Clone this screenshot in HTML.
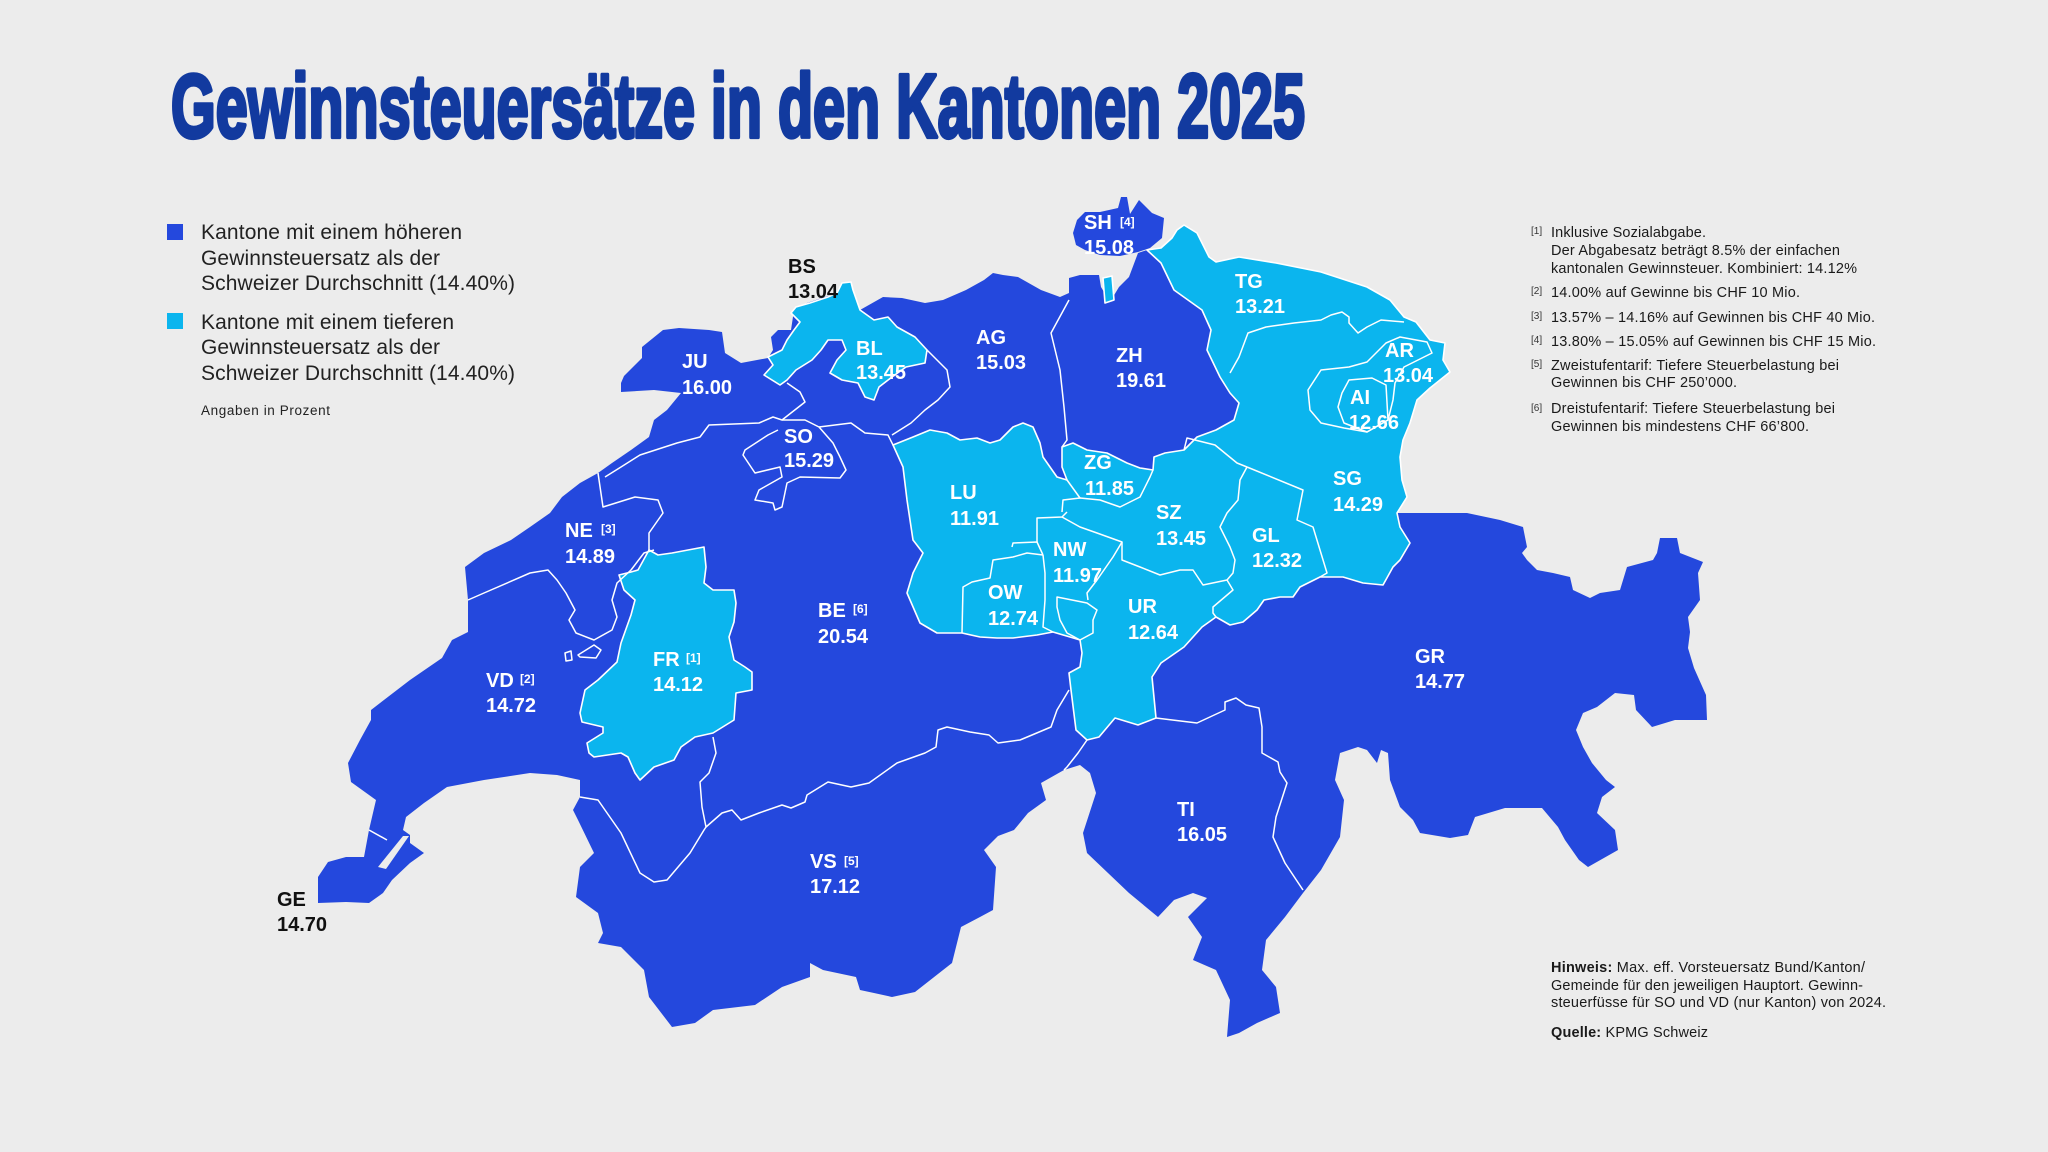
<!DOCTYPE html>
<html>
<head>
<meta charset="utf-8">
<style>
html,body{margin:0;padding:0;background:#ececec;}
svg{display:block;}
</style>
</head>
<body>
<svg xmlns="http://www.w3.org/2000/svg" width="2048" height="1152" viewBox="0 0 2048 1152" font-family="'Liberation Sans', Arial, sans-serif">
<rect x="0" y="0" width="2048" height="1152" fill="#ececec"/>

<!-- Title -->
<text x="171" y="137" font-size="90" font-weight="bold" fill="#123a9f" stroke="#123a9f" stroke-width="4.2" stroke-linejoin="round" textLength="1134" lengthAdjust="spacingAndGlyphs">Gewinnsteuersätze in den Kantonen 2025</text>

<!-- Legend -->
<rect x="167" y="224" width="16" height="16" fill="#2448dd"/>
<rect x="167" y="313" width="16" height="16" fill="#0bb5ee"/>
<g font-size="21" fill="#222">
<text x="201" y="239" textLength="261" lengthAdjust="spacing">Kantone mit einem höheren</text>
<text x="201" y="265" textLength="239" lengthAdjust="spacing">Gewinnsteuersatz als der</text>
<text x="201" y="290" textLength="314" lengthAdjust="spacing">Schweizer Durchschnitt (14.40%)</text>
<text x="201" y="329" textLength="253" lengthAdjust="spacing">Kantone mit einem tieferen</text>
<text x="201" y="354" textLength="239" lengthAdjust="spacing">Gewinnsteuersatz als der</text>
<text x="201" y="380" textLength="314" lengthAdjust="spacing">Schweizer Durchschnitt (14.40%)</text>
</g>
<text x="201" y="415" font-size="13.5" fill="#222" textLength="129" lengthAdjust="spacing">Angaben in Prozent</text>

<!-- Map: Switzerland outline (dark) -->
<path fill="#2448dd" d="M621,383 L624,376 L642,358 L642,347 L663,330 L679,328 L709,330 L722,332 L725,353 L741,363 L768,358 L773,350 L771,337 L778,330 L791,330 L794,310 L807,303 L837,293 L842,283 L851,282 L853,290 L860,310 L883,297 L902,298 L925,303 L943,300 L966,290 L984,280 L993,273 L1003,275 L1018,277 L1041,290 L1060,297 L1069,293 L1069,278 L1080,275 L1099,275 L1101,287 L1110,302 L1119,287 L1129,277 L1138,253 L1147,250 L1161,248 L1172,238 L1177,230 L1184,225 L1197,233 L1209,257 L1216,262 L1239,257 L1276,263 L1321,272 L1367,287 L1390,300 L1404,317 L1416,322 L1430,340 L1445,343 L1443,360 L1450,372 L1430,388 L1417,400 L1410,423 L1403,440 L1400,457 L1402,480 L1407,497 L1397,513 L1433,513 L1467,513 L1500,520 L1523,527 L1527,547 L1522,553 L1527,560 L1537,570 L1553,573 L1570,577 L1573,590 L1590,598 L1600,593 L1620,590 L1627,567 L1653,560 L1657,553 L1660,538 L1677,538 L1680,553 L1703,562 L1698,573 L1700,600 L1688,617 L1690,632 L1688,648 L1694,668 L1706,695 L1707,720 L1675,720 L1652,727 L1636,710 L1634,695 L1615,693 L1597,707 L1583,713 L1576,730 L1583,747 L1592,763 L1606,780 L1615,787 L1602,797 L1597,813 L1615,830 L1618,850 L1588,867 L1579,860 L1565,840 L1558,827 L1542,808 L1505,808 L1475,817 L1468,835 L1450,838 L1420,833 L1413,820 L1400,807 L1390,780 L1388,753 L1381,750 L1377,763 L1367,750 L1358,747 L1340,753 L1335,780 L1344,800 L1340,837 L1321,870 L1303,893 L1285,917 L1266,940 L1262,970 L1276,987 L1280,1013 L1257,1023 L1239,1033 L1227,1037 L1230,1000 L1216,970 L1193,960 L1202,937 L1188,917 L1207,898 L1193,893 L1174,900 L1158,917 L1129,893 L1087,853 L1083,833 L1096,793 L1090,773 L1080,765 L1064,770 L1041,783 L1046,800 L1028,813 L1014,830 L998,836 L984,850 L996,867 L993,910 L980,917 L961,927 L952,963 L915,992 L892,997 L874,993 L860,990 L856,977 L823,970 L810,963 L810,977 L782,987 L755,1005 L713,1010 L695,1023 L672,1027 L649,997 L644,970 L621,947 L598,943 L603,933 L598,913 L576,897 L580,867 L594,853 L578,820 L573,810 L580,797 L580,780 L557,775 L530,773 L484,780 L447,787 L424,803 L406,817 L403,830 L410,835 L410,843 L424,853 L410,863 L392,880 L383,893 L369,903 L346,902 L318,903 L318,877 L328,862 L346,857 L364,857 L369,830 L376,800 L351,782 L348,763 L360,740 L371,720 L371,710 L410,680 L442,658 L452,640 L468,632 L468,600 L465,567 L484,553 L511,540 L530,527 L550,513 L562,497 L580,483 L598,473 L612,463 L631,450 L649,437 L654,420 L667,410 L681,393 L654,390 L621,392 Z"/>
<!-- GE lake wedge -->
<path fill="#ececec" d="M378,867 L403,836 L409,836 L386,869 Z"/>
<!-- SH -->
<path fill="#2448dd" d="M1073,233 L1077,220 L1085,212 L1100,212 L1118,208 L1121,197 L1127,197 L1130,214 L1139,200 L1152,213 L1164,218 L1162,238 L1150,248 L1138,252 L1120,256 L1100,255 L1085,250 L1076,245 Z"/>

<!-- Light cantons -->
<g fill="#0bb5ee" stroke="#ffffff" stroke-width="1.6" stroke-linejoin="round">
<path d="M1147,250 L1161,248 L1172,238 L1177,230 L1184,225 L1197,233 L1209,257 L1216,262 L1239,257 L1276,263 L1321,272 L1367,287 L1390,300 L1404,317 L1416,322 L1430,340 L1445,343 L1443,360 L1450,372 L1430,388 L1417,400 L1410,423 L1403,440 L1400,457 L1402,480 L1407,497 L1397,513 L1400,527 L1410,543 L1400,560 L1393,567 L1383,585 L1363,583 L1343,577 L1320,577 L1300,587 L1293,597 L1280,597 L1264,600 L1257,610 L1243,622 L1230,625 L1216,617 L1202,627 L1184,647 L1161,663 L1152,677 L1156,718 L1138,725 L1115,718 L1099,737 L1087,740 L1076,730 L1071,690 L1069,673 L1080,667 L1082,653 L1080,640 L1070,637 L1053,632 L1037,635 L1013,638 L997,638 L980,637 L962,633 L937,633 L920,623 L907,593 L913,573 L923,553 L913,540 L907,500 L903,467 L893,445 L913,437 L930,430 L947,433 L960,440 L977,438 L990,443 L1000,440 L1007,433 L1013,427 L1023,423 L1033,427 L1040,443 L1043,457 L1057,477 L1067,480 L1062,467 L1062,447 L1073,443 L1087,450 L1107,453 L1127,463 L1140,468 L1153,470 L1154,457 L1165,453 L1184,450 L1197,437 L1216,430 L1234,420 L1239,403 L1230,393 L1220,377 L1207,350 L1211,330 L1202,310 L1174,290 L1161,263 Z"/>
<path d="M837,293 L842,283 L851,282 L853,290 L860,310 L874,320 L888,317 L897,327 L915,337 L927,350 L925,363 L906,367 L892,377 L879,387 L874,400 L865,397 L858,383 L842,380 L830,373 L837,360 L846,350 L842,340 L828,340 L821,350 L812,360 L796,370 L787,380 L780,385 L764,375 L773,365 L768,357 L782,350 L787,340 L794,330 L800,322 L791,313 L796,307 L810,303 L828,297 Z"/>
<path d="M649,550 L658,555 L672,553 L704,547 L706,567 L704,583 L713,590 L734,590 L736,603 L734,622 L729,637 L734,660 L745,667 L752,672 L752,690 L736,693 L734,720 L713,733 L695,737 L681,747 L674,760 L654,767 L640,780 L635,773 L628,757 L621,753 L594,757 L589,753 L587,743 L603,733 L603,727 L582,722 L580,713 L585,690 L598,680 L617,662 L621,643 L631,615 L635,600 L624,590 L619,575 L631,572 L638,570 Z"/>
<path d="M1103,278 L1112,276 L1114,300 L1105,303 Z"/>
</g>

<!-- Internal borders -->
<g fill="none" stroke="#ffffff" stroke-width="1.5" stroke-linejoin="round">
<path d="M605,477 L621,467 L640,455 L677,443 L700,437 L709,425 L759,423 L773,417 L782,420 L805,402 L800,392 L787,383"/>
<path d="M778,430 L768,435 L745,450 L743,455 L755,473 L780,467 L782,477 L759,490 L755,500 L773,503 L775,510 L782,507 L787,483 L800,477 L840,478 L846,470 L840,457 L833,443 L819,427 L805,420 L782,420"/>
<path d="M819,427 L851,423 L865,433 L888,435 L893,445"/>
<path d="M927,350 L947,370 L950,387 L938,400 L925,410 L911,423 L892,435"/>
<path d="M1069,300 L1051,333 L1060,370 L1064,407 L1067,440 L1062,447"/>
<path d="M598,473 L603,507 L635,497 L658,500 L663,513 L656,523 L649,533 L649,550"/>
<path d="M468,600 L484,593 L530,573 L548,570 L557,580 L566,593 L575,610 L569,620 L576,633 L594,640 L612,630 L617,617 L612,600 L617,583 L631,570 L644,553 L654,550"/>
<path d="M580,797 L598,800 L621,833 L640,873 L654,882 L667,880 L690,853 L704,830 L706,827 L702,807 L700,782 L709,773 L716,753 L713,737"/>
<path d="M706,827 L722,813 L732,810 L741,820 L759,813 L782,805 L791,808 L805,802 L807,795 L828,782 L851,787 L869,783 L897,763 L925,753 L936,747 L938,730 L947,727 L970,732 L989,735 L998,743 L1020,740 L1032,735 L1051,727 L1057,710 L1069,690"/>
<path d="M1087,740 L1078,753 L1067,767 L1064,770"/>
<path d="M1156,718 L1197,723 L1225,710 L1225,702 L1236,698 L1246,705 L1259,708 L1262,727 L1262,753 L1278,762 L1280,772 L1287,783 L1276,817 L1273,837 L1285,863 L1303,890"/>
<path d="M369,830 L387,840"/>
<path d="M565,653 L571,651 L572,660 L566,661 Z"/>
<path d="M578,655 L594,645 L601,650 L596,658 L580,657 Z"/>
<!-- central light cantons -->
<path d="M962,633 L963,587 L972,582 L990,578 L993,560 L1013,557 L1027,553 L1043,555"/>
<path d="M1012,547 L1013,543 L1037,542 L1043,555"/>
<path d="M1043,555 L1045,573 L1045,600 L1043,627 L1053,632"/>
<path d="M1037,542 L1037,518 L1062,517 L1067,512"/>
<path d="M1062,512 L1063,500 L1080,498 L1100,500 L1120,507 L1140,497 L1150,477 L1153,470"/>
<path d="M1067,480 L1080,498"/>
<path d="M1062,517 L1080,527 L1097,533 L1122,542 L1113,557 L1097,580 L1087,593 L1088,600"/>
<path d="M1057,597 L1072,600 L1087,603 L1097,610 L1093,620 L1093,633 L1080,640 L1067,633 L1060,620 L1057,607 Z"/>
<path d="M1122,542 L1122,560 L1140,567 L1160,575 L1180,570 L1193,570 L1203,585 L1227,580"/>
<path d="M1247,467 L1240,480 L1238,500 L1227,513 L1220,527 L1230,547 L1235,560 L1233,573 L1227,580 L1233,590 L1213,607 L1213,613 L1216,617"/>
<path d="M1184,450 L1187,438 L1215,445 L1237,463 L1247,467"/>
<path d="M1247,467 L1303,490 L1297,520 L1313,527 L1320,550 L1327,573 L1320,577"/>
<path d="M1230,373 L1239,357 L1248,333 L1266,327 L1294,323 L1321,320 L1331,315 L1342,312 L1349,317 L1349,323 L1358,333 L1367,327 L1381,320 L1404,322"/>
<path d="M1308,390 L1321,370 L1349,367 L1367,362 L1386,343 L1400,337 L1427,342 L1432,353 L1404,367 L1395,383 L1393,400 L1388,420 L1367,432 L1344,428 L1321,423 L1310,410 Z"/>
<path d="M1342,393 L1349,380 L1372,378 L1386,385 L1388,420 L1367,432 L1344,423 L1338,407 Z"/>
</g>

<!-- Canton labels -->
<g font-size="20" font-weight="bold" fill="#ffffff">
<text x="1084" y="229">SH</text><text x="1084" y="254">15.08</text>
<text x="682" y="368">JU</text><text x="682" y="394">16.00</text>
<text x="856" y="355">BL</text><text x="856" y="379">13.45</text>
<text x="976" y="344">AG</text><text x="976" y="369">15.03</text>
<text x="1116" y="362">ZH</text><text x="1116" y="387">19.61</text>
<text x="1235" y="288">TG</text><text x="1235" y="313">13.21</text>
<text x="1385" y="357">AR</text><text x="1383" y="382">13.04</text>
<text x="1350" y="404">AI</text><text x="1349" y="429">12.66</text>
<text x="784" y="443">SO</text><text x="784" y="467">15.29</text>
<text x="1084" y="469">ZG</text><text x="1085" y="495">11.85</text>
<text x="950" y="499">LU</text><text x="950" y="525">11.91</text>
<text x="1156" y="519">SZ</text><text x="1156" y="545">13.45</text>
<text x="1333" y="485">SG</text><text x="1333" y="511">14.29</text>
<text x="565" y="537">NE</text><text x="565" y="563">14.89</text>
<text x="1252" y="542">GL</text><text x="1252" y="567">12.32</text>
<text x="1053" y="556">NW</text><text x="1053" y="582">11.97</text>
<text x="818" y="617">BE</text><text x="818" y="643">20.54</text>
<text x="988" y="599">OW</text><text x="988" y="625">12.74</text>
<text x="1128" y="613">UR</text><text x="1128" y="639">12.64</text>
<text x="653" y="666">FR</text><text x="653" y="691">14.12</text>
<text x="1415" y="663">GR</text><text x="1415" y="688">14.77</text>
<text x="486" y="687">VD</text><text x="486" y="712">14.72</text>
<text x="1177" y="816">TI</text><text x="1177" y="841">16.05</text>
<text x="810" y="868">VS</text><text x="810" y="893">17.12</text>
</g>
<g font-size="12" font-weight="bold" fill="#ffffff">
<text x="1120" y="226">[4]</text>
<text x="601" y="533">[3]</text>
<text x="853" y="613">[6]</text>
<text x="686" y="662">[1]</text>
<text x="520" y="683">[2]</text>
<text x="844" y="865">[5]</text>
</g>
<g font-size="20" font-weight="bold" fill="#111111">
<text x="788" y="273">BS</text><text x="788" y="298">13.04</text>
<text x="277" y="906">GE</text><text x="277" y="931">14.70</text>
</g>

<!-- Footnotes -->
<g font-size="10" fill="#333">
<text x="1531" y="234">[1]</text>
<text x="1531" y="294">[2]</text>
<text x="1531" y="319">[3]</text>
<text x="1531" y="343">[4]</text>
<text x="1531" y="367">[5]</text>
<text x="1531" y="411">[6]</text>
</g>
<g font-size="14.5" fill="#1a1a1a">
<text x="1551" y="237" textLength="155" lengthAdjust="spacing">Inklusive Sozialabgabe.</text>
<text x="1551" y="255" textLength="289" lengthAdjust="spacing">Der Abgabesatz beträgt 8.5% der einfachen</text>
<text x="1551" y="273" textLength="306" lengthAdjust="spacing">kantonalen Gewinnsteuer. Kombiniert: 14.12%</text>
<text x="1551" y="297" textLength="249" lengthAdjust="spacing">14.00% auf Gewinne bis CHF 10 Mio.</text>
<text x="1551" y="322" textLength="324" lengthAdjust="spacing">13.57% – 14.16% auf Gewinnen bis CHF 40 Mio.</text>
<text x="1551" y="346" textLength="325" lengthAdjust="spacing">13.80% – 15.05% auf Gewinnen bis CHF 15 Mio.</text>
<text x="1551" y="370" textLength="288" lengthAdjust="spacing">Zweistufentarif: Tiefere Steuerbelastung bei</text>
<text x="1551" y="387" textLength="186" lengthAdjust="spacing">Gewinnen bis CHF 250’000.</text>
<text x="1551" y="413" textLength="284" lengthAdjust="spacing">Dreistufentarif: Tiefere Steuerbelastung bei</text>
<text x="1551" y="431" textLength="258" lengthAdjust="spacing">Gewinnen bis mindestens CHF 66’800.</text>

<text x="1551" y="972" textLength="314" lengthAdjust="spacing"><tspan font-weight="bold">Hinweis:</tspan> Max. eff. Vorsteuersatz Bund/Kanton/</text>
<text x="1551" y="990" textLength="312" lengthAdjust="spacing">Gemeinde für den jeweiligen Hauptort. Gewinn-</text>
<text x="1551" y="1007" textLength="335" lengthAdjust="spacing">steuerfüsse für SO und VD (nur Kanton) von 2024.</text>
<text x="1551" y="1037" textLength="157" lengthAdjust="spacing"><tspan font-weight="bold">Quelle:</tspan> KPMG Schweiz</text>
</g>
</svg>
</body>
</html>
